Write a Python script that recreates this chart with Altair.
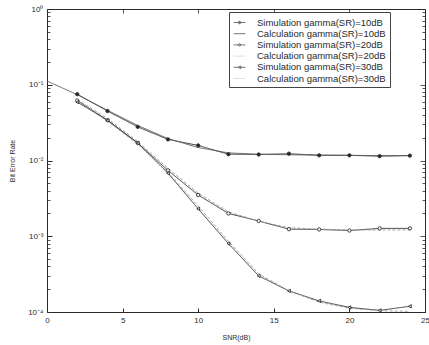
import altair as alt
import pandas as pd

SNR_CALC10 = [0, 2, 4, 6, 8, 10, 12, 14, 16, 18, 20, 22, 24]
SNR_SIM = [2, 4, 6, 8, 10, 12, 14, 16, 18, 20, 22, 24]

sim10 = [0.075, 0.045, 0.0278, 0.019, 0.0158, 0.0121, 0.0120, 0.0123, 0.0117, 0.0117, 0.0114, 0.0116]
calc10 = [0.112, 0.074, 0.046, 0.029, 0.0195, 0.0148, 0.0126, 0.0121, 0.0119, 0.0118, 0.0117, 0.0116, 0.0116]
sim20 = [0.062, 0.034, 0.017, 0.0074, 0.0035, 0.0020, 0.00159, 0.00124, 0.00123, 0.00119, 0.00127, 0.00127]
calc20 = [0.064, 0.036, 0.0178, 0.0079, 0.0037, 0.0021, 0.00158, 0.00130, 0.00124, 0.00121, 0.00121, 0.00121]
sim30 = [0.059, 0.034, 0.017, 0.0068, 0.0023, 0.00080, 0.00030, 0.00019, 0.00014, 0.000115, 0.000105, 0.000119]
calc30 = [0.061, 0.033, 0.0165, 0.0070, 0.0025, 0.00086, 0.00032, 0.00019, 0.000135, 0.000112, 0.000104, 0.000102]

NAMES = [
    "Simulation gamma(SR)=10dB",
    "Calculation gamma(SR)=10dB",
    "Simulation gamma(SR)=20dB",
    "Calculation gamma(SR)=20dB",
    "Simulation gamma(SR)=30dB",
    "Calculation gamma(SR)=30dB",
]
SERIES = [(SNR_SIM, sim10), (SNR_CALC10, calc10), (SNR_SIM, sim20),
          (SNR_SIM, calc20), (SNR_SIM, sim30), (SNR_SIM, calc30)]

X_TICKS = [0, 5, 10, 15, 20, 25]
Y_MAJOR = [1e-4, 1e-3, 1e-2, 1e-1, 1]
Y_MINOR = [m * 10 ** e for e in (-4, -3, -2, -1) for m in range(2, 10)]

rows = []
for name, (xs, ys) in zip(NAMES, SERIES):
    for xv, yv in zip(xs, ys):
        rows.append({"series": name, "x": xv, "y": yv})
df = pd.DataFrame(rows)
sim_df = df[df["series"].str.startswith("Simulation")]
empty_df = df.iloc[0:0]

FONT = "Liberation Sans"
INK = "#2a2a2a"
LIGHT = "#d0d0d0"

xscale = alt.Scale(domain=[0, 25], nice=False, zero=False)
yscale = alt.Scale(type="log", domain=[1e-4, 1], nice=False)

ylabel_expr = ("datum.value >= 0.5 ? '10⁰' : datum.value >= 0.05 ? '10⁻¹' : "
               "datum.value >= 0.005 ? '10⁻²' : datum.value >= 0.0005 ? '10⁻³' : '10⁻⁴'")


def tick_axis(orient, values, size):
    return alt.Axis(orient=orient, values=values, labels=False, title=None, domain=False,
                    grid=False, ticks=True, tickSize=size, offset=-size, tickColor=INK,
                    tickWidth=0.8)


DOT = "M-1,0H1M-0.22,0A0.22,0.22 0 1,1 0.22,0A0.22,0.22 0 1,1 -0.22,0Z"
TRI = "M-1,0H1M-0.24,0L0.22,-0.24L0.22,0.24Z"
LINE = "M-1,0H1"

legend = alt.Legend(
    orient="none", legendX=182, legendY=3, title=None,
    labelFont=FONT, labelFontSize=9.5, labelColor=INK, labelLimit=300,
    symbolSize=140, symbolStrokeWidth=0.9, rowPadding=0.2, labelOffset=11,
    padding=4, strokeColor="#444", fillColor="white", cornerRadius=0,
)

lines = alt.Chart(df).mark_line(strokeWidth=0.9).encode(
    x=alt.X("x:Q", scale=xscale, axis=alt.Axis(
        orient="bottom", values=X_TICKS, title="SNR(dB)", grid=False, domain=False,
        tickSize=4, offset=-4, labelPadding=4, tickColor=INK, labelFont=FONT, labelFontSize=8,
        labelColor=INK, titleFont=FONT, titleFontSize=7, titleFontWeight="normal",
        titleColor=INK, titlePadding=9, labelFlush=False)),
    y=alt.Y("y:Q", scale=yscale, axis=alt.Axis(
        orient="left", values=Y_MAJOR, labelExpr=ylabel_expr, title="Bit Error Rate",
        grid=False, domain=False, tickSize=5, offset=-5, labelPadding=4, tickColor=INK,
        labelFont=FONT, labelFontSize=8, labelColor=INK, titleFont=FONT, titleFontSize=7,
        titleFontWeight="normal", titleColor=INK, titlePadding=12, labelFlush=False)),
    color=alt.Color("series:N", scale=alt.Scale(
        domain=NAMES, range=[INK, "#555555", INK, "#9a9a9a", INK, "#9a9a9a"]), legend=None),
    strokeDash=alt.StrokeDash("series:N", scale=alt.Scale(
        domain=NAMES, range=[[1, 0], [1, 0], [1, 0], [3, 2], [1, 0], [3, 2]]), legend=None),
    detail="series:N",
)

points = alt.Chart(sim_df).mark_point(size=11, strokeWidth=0.9, opacity=1, color=INK).encode(
    x=alt.X("x:Q", scale=xscale, axis=tick_axis("top", [5, 10, 15, 20], 4)),
    y=alt.Y("y:Q", scale=yscale, axis=tick_axis("right", Y_MAJOR, 5)),
    shape=alt.Shape("series:N", scale=alt.Scale(
        domain=[NAMES[0], NAMES[2], NAMES[4]], range=["circle", "circle", "triangle-left"]),
        legend=None),
    fill=alt.Fill("series:N", scale=alt.Scale(
        domain=[NAMES[0], NAMES[2], NAMES[4]], range=[INK, "white", "white"]), legend=None),
)

minor_left = alt.Chart(sim_df).mark_point(opacity=0).encode(
    x=alt.X("x:Q", scale=xscale, axis=None),
    y=alt.Y("y:Q", scale=yscale, axis=tick_axis("left", Y_MINOR, 3)),
)
minor_right = alt.Chart(sim_df).mark_point(opacity=0).encode(
    x=alt.X("x:Q", scale=xscale, axis=None),
    y=alt.Y("y:Q", scale=yscale, axis=tick_axis("right", Y_MINOR, 3)),
)

legend_layer = alt.Chart(empty_df).mark_point(filled=True, size=140, strokeWidth=0.9).encode(
    x=alt.X("x:Q", scale=xscale, axis=None),
    y=alt.Y("y:Q", scale=yscale, axis=None),
    shape=alt.Shape("series:N", scale=alt.Scale(
        domain=NAMES, range=[DOT, LINE, DOT, LINE, TRI, LINE]), legend=legend),
    fill=alt.Fill("series:N", scale=alt.Scale(
        domain=NAMES, range=[INK, "transparent", "white", "transparent", "white", "transparent"])),
    stroke=alt.Stroke("series:N", scale=alt.Scale(
        domain=NAMES, range=[INK, INK, INK, LIGHT, INK, LIGHT])),
)

chart = alt.layer(lines, points, minor_left, minor_right, legend_layer).resolve_axis(
    x="independent", y="independent"
).resolve_scale(
    x="shared", y="shared", shape="independent", fill="independent",
    color="independent", stroke="independent", strokeDash="independent"
).properties(
    width=378, height=303,
    padding={"left": 47, "top": 9, "right": 4, "bottom": 33},
    autosize=alt.AutoSizeParams(type="none"),
    background="white",
).configure_view(stroke=INK, strokeWidth=1)

chart.save("out.html", embed_options={"renderer": "svg", "actions": False})
